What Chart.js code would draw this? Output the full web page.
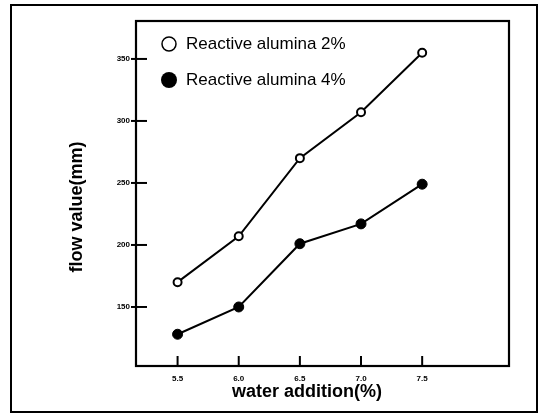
<!DOCTYPE html>
<html>
<head>
<meta charset="utf-8">
<title>flow value vs water addition</title>
<script src="https://cdn.jsdelivr.net/npm/chart.js@4/dist/chart.umd.min.js"></script>
<style>
    html, body { margin: 0; padding: 0; background: #fff; }
    #wrap { position: relative; width: 545px; height: 419px; }
</style>
</head>
<body>
<div id="wrap"><canvas id="flowChart" width="545" height="419"></canvas></div>
<script>
// chart values
const waterAddition = [5.5, 6.0, 6.5, 7.0, 7.5];
const flowAlumina2 = [170, 207, 270, 307, 355];
const flowAlumina4 = [128, 150, 201, 217, 249];
const xTickValues = [5.5, 6.0, 6.5, 7.0, 7.5];
const yTickValues = [150, 200, 250, 300, 350];
const seriesNames = ["Reactive alumina 2%", "Reactive alumina 4%"];
const xTitle = "water addition(%)";
const yTitle = "flow value(mm)";

(function(){
    "use strict";

    const FONT = "'Liberation Sans', Arial, Helvetica, sans-serif";

    /**
     * Build {x, y} points for one series.
     * @param {list} values - flow values, one per water addition step
    */
    function toPoints(values) {
        return waterAddition.map((x, i) => ({ x: x, y: values[i] }));
    }

    // Draws the frame, inward tick marks, axis titles and the legend
    const decorations = {
        id: 'decorations',
        afterDraw(chart) {
            const ctx = chart.ctx;
            const area = chart.chartArea;
            const xs = chart.scales.x;
            const ys = chart.scales.y;
            ctx.save();
            ctx.strokeStyle = '#000';
            ctx.fillStyle = '#000';

            // outer frame
            ctx.lineWidth = 2;
            ctx.strokeRect(11, 5, 526, 407);

            // plot box
            ctx.lineWidth = 2.2;
            ctx.strokeRect(area.left, area.top, area.right - area.left, area.bottom - area.top);

            // tick marks pointing into the plot
            ctx.lineWidth = 2;
            xs.ticks.forEach(t => {
                const px = xs.getPixelForValue(t.value);
                ctx.beginPath();
                ctx.moveTo(px, area.bottom);
                ctx.lineTo(px, area.bottom - 10);
                ctx.stroke();
            });
            ys.ticks.forEach(t => {
                const py = ys.getPixelForValue(t.value);
                ctx.beginPath();
                ctx.moveTo(area.left - 5, py);
                ctx.lineTo(area.left + 11, py);
                ctx.stroke();
            });

            // axis titles
            ctx.font = "bold 18px " + FONT;
            ctx.textAlign = 'center';
            ctx.textBaseline = 'middle';
            ctx.fillText(xTitle, 307, 392);
            ctx.save();
            ctx.translate(77, 207);
            ctx.rotate(-Math.PI / 2);
            ctx.fillText(yTitle, 0, 0);
            ctx.restore();

            // legend
            ctx.lineWidth = 1.5;
            ctx.beginPath();
            ctx.arc(169, 44, 7, 0, Math.PI * 2);
            ctx.fillStyle = '#fff';
            ctx.fill();
            ctx.stroke();
            ctx.fillStyle = '#000';
            ctx.beginPath();
            ctx.arc(169, 80, 8, 0, Math.PI * 2);
            ctx.fill();
            ctx.font = "17px " + FONT;
            ctx.textAlign = 'left';
            ctx.fillText(seriesNames[0], 186, 44);
            ctx.fillText(seriesNames[1], 186, 80);

            ctx.restore();
        }
    };

    function createChart() {
        const ctx = document.getElementById('flowChart').getContext('2d');
        new Chart(ctx, {
            type: 'line',
            data: {
                datasets: [{
                    label: seriesNames[0],
                    data: toPoints(flowAlumina2),
                    borderColor: '#000',
                    borderWidth: 2,
                    backgroundColor: '#fff',
                    pointBackgroundColor: '#fff',
                    pointBorderColor: '#000',
                    pointBorderWidth: 2,
                    pointRadius: 4,
                    tension: 0,
                    fill: false,
                }, {
                    label: seriesNames[1],
                    data: toPoints(flowAlumina4),
                    borderColor: '#000',
                    borderWidth: 2,
                    backgroundColor: '#000',
                    pointBackgroundColor: '#000',
                    pointBorderColor: '#000',
                    pointBorderWidth: 1,
                    pointRadius: 5,
                    tension: 0,
                    fill: false,
                }]
            },
            options: {
                responsive: false,
                animation: false,
                events: [],
                layout: {
                    padding: { left: 0, top: 21, right: 36, bottom: 0 }
                },
                scales: {
                    x: {
                        type: 'linear',
                        min: 5.16,
                        max: 8.21,
                        afterBuildTicks: (scale) => { scale.ticks = xTickValues.map(v => ({ value: v })); },
                        afterFit: (scale) => { scale.height = 53; },
                        grid: { display: false, drawTicks: false },
                        border: { display: false },
                        ticks: {
                            color: '#000',
                            padding: 8,
                            font: { family: FONT, size: 8, weight: 'bold' },
                            callback: (v) => Number(v).toFixed(1)
                        }
                    },
                    y: {
                        type: 'linear',
                        min: 102.4,
                        max: 380.6,
                        afterBuildTicks: (scale) => { scale.ticks = yTickValues.map(v => ({ value: v })); },
                        afterFit: (scale) => { scale.width = 136; },
                        grid: { display: false, drawTicks: false },
                        border: { display: false },
                        ticks: {
                            color: '#000',
                            padding: 6,
                            font: { family: FONT, size: 8, weight: 'bold' }
                        }
                    }
                },
                plugins: {
                    legend: { display: false },
                    tooltip: { enabled: false }
                }
            },
            plugins: [decorations]
        });
    }

    createChart();
})();
</script>
</body>
</html>
